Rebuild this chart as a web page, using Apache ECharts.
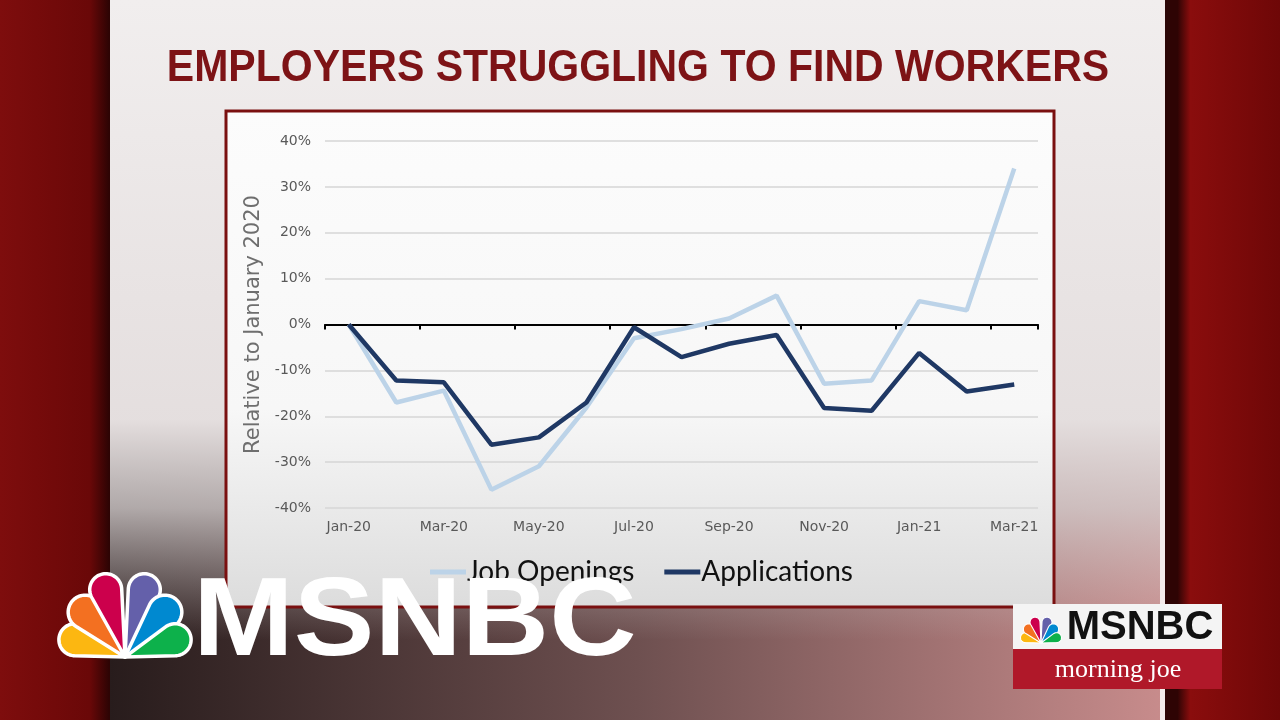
<!DOCTYPE html>
<html>
<head>
<meta charset="utf-8">
<script src="https://cdn.jsdelivr.net/npm/echarts@6/dist/echarts.min.js"></script>
<style>html,body{margin:0;padding:0;background:#6b0a0a;}#c{width:1280px;height:720px;}</style>
</head>
<body>
<div id="c"></div>
<script>
const categories = ['Jan-20','Feb-20','Mar-20','Apr-20','May-20','Jun-20','Jul-20','Aug-20','Sep-20','Oct-20','Nov-20','Dec-20','Jan-21','Feb-21','Mar-21'];
const jobOpenings = [0, -17.0, -14.4, -36.0, -30.9, -18.1, -3.0, -1.0, 1.3, 6.3, -12.9, -12.2, 5.1, 3.1, 34.0];
const applications = [0, -12.2, -12.6, -26.2, -24.6, -17.0, -0.6, -7.1, -4.2, -2.3, -18.2, -18.8, -6.2, -14.6, -13.1];
const yTicks = {min: -40, max: 40, interval: 10};

const chart = echarts.init(document.getElementById('c'), null, {renderer: 'canvas'});

// NBC peacock logo (decoration)
function peacock(bx, by, s, z) {
  const cols = ['#fcb711', '#f37021', '#cc004c', '#6460aa', '#0089d0', '#0db14b'];
  const angles = [-71, -41.6, -16, 16, 41.6, 71];
  const dists = [53, 60, 70, 70, 60, 53];
  const rads = [16, 17, 16, 16, 17, 16];
  const els = [];
  for (let i = 0; i < 6; i++) {
    const d = dists[i] * s, r = rads[i] * s;
    const beta = Math.asin(r / d);
    const pts = [[0, 0]];
    const a0 = Math.PI - beta, a1 = 2 * Math.PI + beta;
    for (let k = 0; k <= 40; k++) {
      const phi = a0 + (a1 - a0) * k / 40;
      pts.push([r * Math.cos(phi), -d + r * Math.sin(phi)]);
    }
    els.push({
      type: 'polygon', x: bx, y: by,
      rotation: -angles[i] * Math.PI / 180,
      shape: {points: pts},
      style: {fill: cols[i], stroke: '#fff', lineWidth: Math.max(1, 3.5 * s), lineJoin: 'round'},
      z: z
    });
  }
  return els;
}

const bg = [
  {type: 'rect', shape: {x: 0, y: 0, width: 1280, height: 720}, style: {fill: {type: 'linear', x: 0, y: 0, x2: 1, y2: 0, colorStops: [{offset: 0, color: '#7e0d0d'}, {offset: 0.07, color: '#6a0808'}, {offset: 0.085, color: '#2e0404'}, {offset: 0.92, color: '#2e0404'}, {offset: 0.93, color: '#8a0d0d'}, {offset: 1, color: '#6e0707'}]}}, z: -30},
  {type: 'rect', shape: {x: 110, y: 0, width: 1055, height: 720}, style: {fill: {type: 'linear', x: 0, y: 0, x2: 0, y2: 1, colorStops: [{offset: 0, color: '#f1eeee'}, {offset: 0.6, color: '#e4dede'}, {offset: 1, color: '#cfc4c4'}]}}, z: -29},
  {type: 'rect', shape: {x: 110, y: 420, width: 1055, height: 300}, style: {fill: {type: 'linear', x: 0, y: 0, x2: 1, y2: 0, colorStops: [{offset: 0, color: 'rgba(40,28,28,1)'}, {offset: 0.5, color: 'rgba(110,80,80,1)'}, {offset: 1, color: 'rgba(200,140,140,1)'}]}}, z: -28},
  {type: 'rect', shape: {x: 110, y: 420, width: 1055, height: 220}, style: {fill: {type: 'linear', x: 0, y: 0, x2: 0, y2: 1, colorStops: [{offset: 0, color: 'rgba(228,222,222,1)'}, {offset: 0.4, color: 'rgba(210,204,204,0.8)'}, {offset: 1, color: 'rgba(200,190,190,0)'}]}}, z: -27},
  {type: 'rect', shape: {x: 1160, y: 0, width: 5, height: 720}, style: {fill: '#f4eaea'}, z: -26},
  {type: 'rect', shape: {x: 226, y: 111, width: 828, height: 496}, style: {fill: {type: 'linear', x: 0, y: 0, x2: 0, y2: 1, colorStops: [{offset: 0, color: '#fcfcfc'}, {offset: 0.6, color: '#f7f7f7'}, {offset: 1, color: '#dcdcdc'}]}, stroke: '#7a1010', lineWidth: 3}, z: -20},
  {type: 'text', x: 638, y: 69, scaleY: 1.1, style: {text: 'EMPLOYERS STRUGGLING TO FIND WORKERS', fill: '#7d1316', font: 'bold 41px "Liberation Sans", Arial, sans-serif', textAlign: 'center', textVerticalAlign: 'middle'}, z: 5},
  // big MSNBC bug
  {type: 'text', x: 193, y: 624, scaleX: 1.08, style: {text: 'MSNBC', fill: '#ffffff', font: 'bold 112px "Liberation Sans", Arial, sans-serif', textAlign: 'left', textVerticalAlign: 'middle'}, z: 100},
  // small logo box
  {type: 'rect', shape: {x: 1013, y: 604, width: 209, height: 45}, style: {fill: '#f4f4f4'}, z: 100},
  {type: 'rect', shape: {x: 1013, y: 649, width: 209, height: 40}, style: {fill: '#b01829'}, z: 100},
  {type: 'text', x: 1140, y: 628, style: {text: 'MSNBC', fill: '#111', font: 'bold 40px "Liberation Sans", Arial, sans-serif', textAlign: 'center', textVerticalAlign: 'middle'}, z: 101},
  {type: 'text', x: 1118, y: 670, style: {text: 'morning joe', fill: '#fff', font: '26px "Liberation Serif", "DejaVu Serif", serif', textAlign: 'center', textVerticalAlign: 'middle'}, z: 101}
].concat(peacock(125, 657, 1.0, 100)).concat(peacock(1041, 643, 0.31, 102));

const option = {
  backgroundColor: 'transparent',
  animation: false,
  graphic: {elements: bg},
  grid: {left: 325, right: 242, top: 141, bottom: 212, containLabel: false},
  legend: {
    left: 425, top: 553,
    icon: 'rect', itemWidth: 36, itemHeight: 5, itemGap: 30,
    textStyle: {fontSize: 28, color: '#111', fontFamily: 'Lato, "Open Sans", sans-serif', padding: [0, 0, 0, -4]},
    data: ['Job Openings', 'Applications']
  },
  xAxis: [
    {
      type: 'category', data: categories, position: 'bottom', boundaryGap: true,
      axisLine: {show: false, onZero: false}, axisTick: {show: false},
      axisLabel: {interval: 1, color: '#595959', fontSize: 14, margin: 12, fontFamily: '"DejaVu Sans", sans-serif'},
      splitLine: {show: false}
    },
    {
      type: 'category', data: categories, position: 'bottom', boundaryGap: true,
      axisLine: {show: true, onZero: true, lineStyle: {color: '#000', width: 2}},
      axisTick: {show: true, interval: 1, length: 5, lineStyle: {color: '#000', width: 2}},
      axisLabel: {show: false}, splitLine: {show: false}
    }
  ],
  yAxis: {
    type: 'value', min: yTicks.min, max: yTicks.max, interval: yTicks.interval,
    name: 'Relative to January 2020', nameLocation: 'middle', nameRotate: 90, nameGap: 60,
    nameTextStyle: {color: '#6e6e6e', fontSize: 21, fontFamily: '"DejaVu Sans", sans-serif'},
    axisLine: {show: false}, axisTick: {show: false},
    axisLabel: {formatter: '{value}%', color: '#595959', fontSize: 14, margin: 14, fontFamily: '"DejaVu Sans", sans-serif'},
    splitLine: {lineStyle: {color: '#d6d6d6', width: 1.5}}
  },
  series: [
    {name: 'Job Openings', type: 'line', xAxisIndex: 0, data: jobOpenings, symbol: 'none', color: '#bcd3e8', lineStyle: {width: 4.5, color: '#bcd3e8'}, z: 3},
    {name: 'Applications', type: 'line', xAxisIndex: 0, data: applications, symbol: 'none', color: '#1f3864', lineStyle: {width: 4.5, color: '#1f3864'}, z: 4}
  ]
};
chart.setOption(option);
</script>
</body>
</html>
